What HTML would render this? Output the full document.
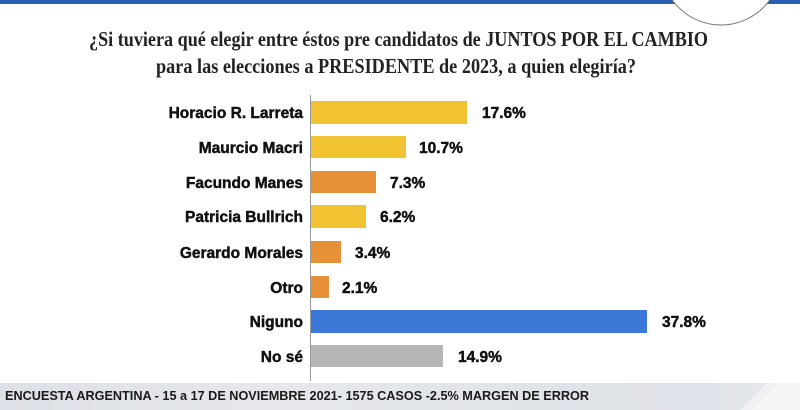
<!DOCTYPE html>
<html>
<head>
<meta charset="utf-8">
<style>
html,body{margin:0;padding:0;background:#fff;}
svg{display:block;}
</style>
</head>
<body>
<svg width="800" height="410" viewBox="0 0 800 410" xmlns="http://www.w3.org/2000/svg">
  <defs>
    <linearGradient id="foot" x1="0" y1="0" x2="1" y2="0">
      <stop offset="0" stop-color="#dde0e6"/>
      <stop offset="0.35" stop-color="#e6e8ec"/>
      <stop offset="0.6" stop-color="#e1e4e9"/>
      <stop offset="0.88" stop-color="#dfe2e8"/>
      <stop offset="1" stop-color="#e8eaee"/>
    </linearGradient>
  </defs>
  <rect x="0" y="0" width="800" height="410" fill="#ffffff"/>
  <!-- top blue bar -->
  <rect x="0" y="0" width="800" height="4" fill="#2b5fb4"/>
  <circle cx="721" cy="-35" r="60" fill="#ffffff" stroke="#777" stroke-width="1"/>

  <!-- title -->
  <g font-family="'Liberation Serif', serif" font-weight="bold" font-size="21" fill="#222">
    <text x="89" y="46" textLength="619" lengthAdjust="spacingAndGlyphs">¿Si tuviera qué elegir entre éstos pre candidatos de JUNTOS POR EL CAMBIO</text>
    <text x="156" y="73" textLength="480" lengthAdjust="spacingAndGlyphs">para las elecciones a PRESIDENTE  de 2023, a quien elegiría?</text>
  </g>

  <!-- axis -->
  <line x1="310.5" y1="95" x2="310.5" y2="381" stroke="#9a9a9a" stroke-width="1"/>

  <!-- bars -->
  <rect x="311" y="101" width="156" height="23" fill="#f1c232"/>
  <rect x="311" y="136" width="95" height="22" fill="#f1c232"/>
  <rect x="311" y="171" width="65" height="22" fill="#e69138"/>
  <rect x="311" y="205" width="55" height="23" fill="#f1c232"/>
  <rect x="311" y="241" width="30" height="22" fill="#e69138"/>
  <rect x="311" y="276" width="18" height="22" fill="#e69138"/>
  <rect x="311" y="310" width="336" height="23" fill="#3c78d8"/>
  <rect x="311" y="345" width="132" height="22" fill="#b7b7b7"/>

  <!-- category labels -->
  <g font-family="'Liberation Sans', Arial, sans-serif" font-weight="bold" font-size="15.5" fill="#111" stroke="#111" stroke-width="0.45" text-anchor="end">
    <text x="303" y="118">Horacio R. Larreta</text>
    <text x="303" y="153">Maurcio Macri</text>
    <text x="303" y="188">Facundo Manes</text>
    <text x="303" y="222">Patricia Bullrich</text>
    <text x="303" y="258">Gerardo Morales</text>
    <text x="303" y="293">Otro</text>
    <text x="303" y="327">Niguno</text>
    <text x="303" y="362">No sé</text>
  </g>

  <!-- value labels -->
  <g font-family="'Liberation Sans', Arial, sans-serif" font-weight="bold" font-size="15.5" fill="#111" stroke="#111" stroke-width="0.45">
    <text x="482" y="118">17.6%</text>
    <text x="419" y="153">10.7%</text>
    <text x="390" y="188">7.3%</text>
    <text x="380" y="222">6.2%</text>
    <text x="355" y="258">3.4%</text>
    <text x="342" y="293">2.1%</text>
    <text x="662" y="327">37.8%</text>
    <text x="458" y="362">14.9%</text>
  </g>

  <!-- footer -->
  <rect x="0" y="383" width="800" height="27" fill="url(#foot)"/>
  <polygon points="740,410 767,383 800,383 800,410" fill="#eef0f3"/>
  <polygon points="752,410 779,383 800,383 800,410" fill="#f4f5f7"/>
  <text x="5" y="400" font-family="'Liberation Sans Narrow', 'Liberation Sans', Arial, sans-serif" font-weight="bold" font-size="13" fill="#1a1a1a" textLength="584" lengthAdjust="spacingAndGlyphs">ENCUESTA ARGENTINA - 15 a 17 DE NOVIEMBRE 2021- 1575 CASOS -2.5% MARGEN DE ERROR</text>
</svg>
</body>
</html>
